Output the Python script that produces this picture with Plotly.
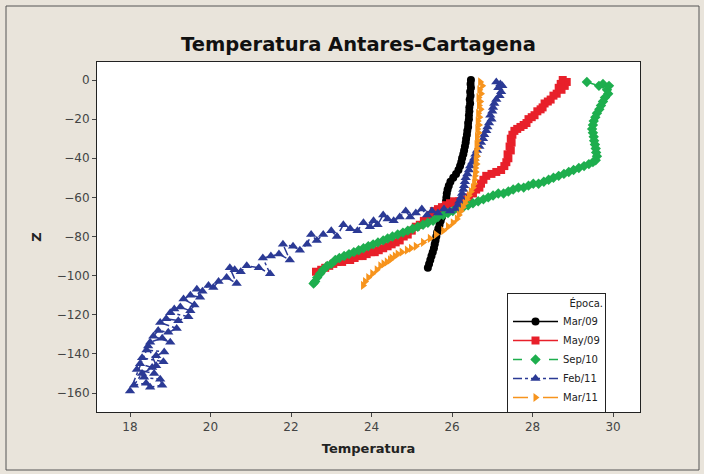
import plotly.graph_objects as go

# ---- data ----
series_names = ["Mar/09", "May/09", "Sep/10", "Feb/11", "Mar/11"]

mar09_t = [26.47, 26.46, 26.47, 26.45, 26.46, 26.44, 26.45, 26.43, 26.43, 26.42, 26.42, 26.40,
           26.40, 26.38, 26.37, 26.35, 26.34, 26.32, 26.30, 26.28, 26.25, 26.23, 26.20, 26.16,
           26.10, 26.03, 25.96, 25.92, 25.89, 25.87, 25.86, 25.85, 25.83, 25.80, 25.78, 25.75,
           25.72, 25.69, 25.66, 25.63, 25.61, 25.59, 25.57, 25.55, 25.52, 25.49, 25.46, 25.43,
           25.40]
mar09_z = [0, -2, -4, -6, -8, -10, -12, -14, -16, -18, -20, -22, -24, -26, -28, -30, -32, -34,
           -36, -38, -40, -42, -44, -46, -48, -50, -52, -54, -56, -58, -60, -62, -64, -66, -68,
           -70, -72, -74, -76, -78, -80, -82, -84, -86, -88, -90, -92, -94, -96]

may09_t = [28.75, 28.85, 28.80, 28.70, 28.65, 28.72, 28.60, 28.52, 28.45, 28.38, 28.30, 28.25,
           28.20, 28.12, 28.05, 27.98, 27.90, 27.85, 27.78, 27.70, 27.62, 27.55, 27.50, 27.46,
           27.48, 27.43, 27.46, 27.38, 27.40, 27.35, 27.30, 27.22, 27.10, 26.98, 26.85, 26.78,
           26.72, 26.68, 26.60, 26.52, 26.42, 26.30, 26.18, 26.05, 25.95, 25.85, 25.75, 25.65,
           25.55, 25.47, 25.40, 25.30, 25.20, 25.10, 25.00, 24.90, 24.80, 24.70, 24.60, 24.50,
           24.40, 24.29, 24.18, 24.08, 23.98, 23.88, 23.78, 23.68, 23.58, 23.47, 23.37, 23.27,
           23.15, 23.05, 22.95, 22.85, 22.75, 22.62]
may09_z = [0, -1, -3, -2, -4, -5, -7, -8, -10, -11, -12, -14, -15, -16, -18, -19, -20, -22,
           -23, -24, -25, -26, -28, -30, -32, -34, -36, -38, -40, -42, -44, -46, -47, -48, -49,
           -51, -53, -55, -56, -58, -60, -61, -62, -62, -63, -64, -65, -66, -67, -69, -71, -72,
           -74, -75, -77, -79, -80, -82, -83, -84, -85, -86, -87, -88, -88, -89, -90, -90, -91,
           -92, -92, -93, -93, -94, -95, -96, -97, -98]

sep10_t = [29.35, 29.65, 29.75, 29.90, 29.85, 29.88, 29.80, 29.75, 29.70, 29.66, 29.60, 29.56,
           29.52, 29.50, 29.48, 29.50, 29.52, 29.53, 29.55, 29.57, 29.58, 29.60, 29.57, 29.50,
           29.40, 29.28, 29.15, 29.02, 28.90, 28.78, 28.65, 28.52, 28.40, 28.28, 28.15, 28.02,
           27.90, 27.78, 27.65, 27.52, 27.40, 27.28, 27.15, 27.02, 26.90, 26.78, 26.65, 26.52,
           26.40, 26.28, 26.15, 26.02, 25.90, 25.78, 25.65, 25.53, 25.40, 25.28, 25.15, 25.02,
           24.90, 24.78, 24.65, 24.52, 24.40, 24.29, 24.16, 24.04, 23.92, 23.80, 23.68, 23.56,
           23.44, 23.32, 23.20, 23.10, 23.00, 22.90, 22.80, 22.72, 22.65, 22.60, 22.56]
sep10_z = [-1, -3, -2, -3, -5, -7, -9, -11, -13, -15, -17, -19, -21, -23, -25, -27, -29, -31,
           -33, -35, -37, -39, -41, -42, -43, -44, -45, -46, -47, -48, -49, -50, -51, -52, -53,
           -53, -54, -55, -55, -56, -57, -58, -58, -59, -60, -61, -62, -63, -64, -65, -66, -67,
           -68, -69, -70, -72, -73, -74, -75, -76, -77, -78, -79, -80, -81, -82, -83, -84, -85,
           -86, -87, -88, -89, -90, -91, -92, -94, -95, -97, -99, -101, -103, -104]

feb11_t = [27.10, 27.20, 27.25, 27.15, 27.22, 27.18, 27.10, 27.05, 27.02, 27.00, 26.95, 26.98,
           26.92, 26.88, 26.85, 26.80, 26.77, 26.72, 26.68, 26.62, 26.58, 26.55, 26.50, 26.45,
           26.42, 26.38, 26.34, 26.32, 26.30, 26.28, 26.25, 26.22, 26.18, 26.14, 26.08, 25.95,
           25.80, 25.65, 25.50, 25.38, 25.25, 25.10, 24.96, 24.85, 24.70, 24.55, 24.40, 24.29,
           24.15, 24.05, 23.96, 23.80, 23.65, 23.47, 23.30, 23.14, 23.00, 22.80, 22.64, 22.50,
           22.40, 22.22, 22.05, 21.80, 21.97, 21.70, 21.50, 21.30, 21.48, 21.20, 20.90, 20.75,
           20.60, 20.48, 20.65, 20.40, 20.20, 20.07, 19.95, 19.80, 19.66, 19.74, 19.50, 19.33,
           19.60, 19.50, 19.25, 19.10, 19.00, 19.45, 19.20, 18.90, 18.75, 19.16, 18.95, 18.70,
           18.58, 19.00, 18.80, 18.50, 18.41, 18.85, 18.65, 18.83, 18.30, 18.25, 18.55, 18.60,
           18.17, 18.35, 18.75, 18.80, 18.50, 18.40, 18.10, 18.30, 18.65, 18.45, 18.00]
feb11_z = [-1, -2, -3, -4, -6, -8, -10, -12, -14, -16, -18, -20, -22, -24, -26, -28, -30, -32,
           -34, -36, -38, -40, -42, -44, -46, -48, -50, -52, -54, -56, -58, -60, -62, -64, -66,
           -67, -66, -68, -67, -69, -66, -68, -70, -67, -70, -72, -71, -69, -74, -72, -75, -73,
           -77, -76, -74, -80, -77, -79, -82, -79, -84, -87, -85, -84, -92, -89, -90, -91, -99,
           -96, -95, -98, -97, -96, -104, -101, -103, -106, -105, -108, -107, -111, -110, -112,
           -115, -118, -116, -117, -119, -121, -123, -122, -124, -127, -129, -128, -131, -134,
           -132, -134, -138, -139, -141, -144, -142, -145, -147, -150, -148, -152, -153, -156,
           -157, -155, -156, -150, -146, -136, -159]

mar11_t = [26.70, 26.75, 26.68, 26.72, 26.66, 26.70, 26.67, 26.71, 26.65, 26.68, 26.64, 26.67,
           26.63, 26.66, 26.62, 26.64, 26.61, 26.63, 26.60, 26.62, 26.59, 26.61, 26.58, 26.59,
           26.57, 26.56, 26.55, 26.52, 26.47, 26.42, 26.37, 26.32, 26.27, 26.22, 26.17, 26.12,
           26.02, 25.90, 25.78, 25.60, 25.45, 25.28, 25.10, 24.98, 24.88, 24.75, 24.65, 24.58,
           24.50, 24.46, 24.38, 24.30, 24.22, 24.13, 24.02, 23.92, 23.84, 23.79]
mar11_z = [-1, -3, -5, -7, -9, -11, -13, -15, -17, -19, -21, -23, -25, -27, -29, -31, -33, -35,
           -37, -39, -41, -43, -45, -47, -49, -51, -53, -55, -57, -59, -61, -63, -65, -67, -69,
           -71, -73, -75, -77, -79, -81, -83, -85, -86, -87, -88, -89, -90, -91, -92, -93, -94,
           -95, -97, -99, -101, -103, -105]

x_ticks = [18, 20, 22, 24, 26, 28, 30]
y_ticks = [0, -20, -40, -60, -80, -100, -120, -140, -160]

# ---- styling ----
colors = ["#000000", "#E8202A", "#1EAE4E", "#2B3A95", "#F7941D"]
symbols = ["circle", "square", "diamond", "triangle-up", "triangle-right"]
dashes = ["solid", "solid", "dash", "dashdot", "longdash"]
sizes = [8, 8, 8, 9, 8]
xs = [mar09_t, may09_t, sep10_t, feb11_t, mar11_t]
zs = [mar09_z, may09_z, sep10_z, feb11_z, mar11_z]

fig = go.Figure()
for name, x, z, c, s, d, sz in zip(series_names, xs, zs, colors, symbols, dashes, sizes):
    fig.add_trace(go.Scatter(
        x=x, y=z, name=name, mode="lines+markers",
        line=dict(color=c, width=1.5, dash=d),
        marker=dict(color=c, symbol=s, size=sz, line=dict(width=0)),
    ))

L, R, T, B = 97, 640, 62, 412
W, H = 704, 474
pw, ph = R - L, B - T

def px(xp):
    return (xp - L) / pw

def py(yp):
    return (B - yp) / ph

fig.update_layout(
    width=W, height=H,
    margin=dict(l=L, r=W - R, t=T, b=H - B, pad=0),
    paper_bgcolor="#E9E4DB",
    plot_bgcolor="#FFFFFF",
    font=dict(family="DejaVu Sans", size=12, color="#444444"),
    title=dict(text="<b>Temperatura Antares-Cartagena</b>", xref="container", x=358.5 / W,
               xanchor="center", yref="container", y=1 - 44 / H, yanchor="middle",
               font=dict(family="DejaVu Sans", size=19.5, color="#111111")),
    showlegend=True,
    legend=dict(
        title=dict(text="Época.", side="top right", font=dict(size=10, color="#222222")),
        x=px(507), y=py(293), xanchor="left", yanchor="top",
        bgcolor="#FFFFFF", bordercolor="#222222", borderwidth=1,
        font=dict(size=10, color="#222222"), tracegroupgap=0, itemwidth=45,
    ),
    shapes=[dict(type="rect", xref="paper", yref="paper",
                 x0=px(6), x1=px(699), y0=py(470), y1=py(6),
                 line=dict(color="#555555", width=1), layer="below")],
)

fig.update_xaxes(
    range=[17.18, 30.67], tickvals=x_ticks, ticks="outside", ticklen=4, tickcolor="#444444",
    showline=True, linecolor="#222222", linewidth=1, mirror=True, showgrid=False, zeroline=False,
    title=dict(text="<b>Temperatura</b>", font=dict(size=13, color="#222222"), standoff=10),
)
fig.update_yaxes(
    range=[-169.7, 9.2], tickvals=y_ticks, ticks="outside", ticklen=4, tickcolor="#444444",
    showline=True, linecolor="#222222", linewidth=1, mirror=True, showgrid=False, zeroline=False,
    title=dict(text="<b>Z</b>", font=dict(size=13, color="#222222"), standoff=12),
)

fig.write_html("out.html", config={"displayModeBar": False},
               post_script="document.body.style.margin='0';")
